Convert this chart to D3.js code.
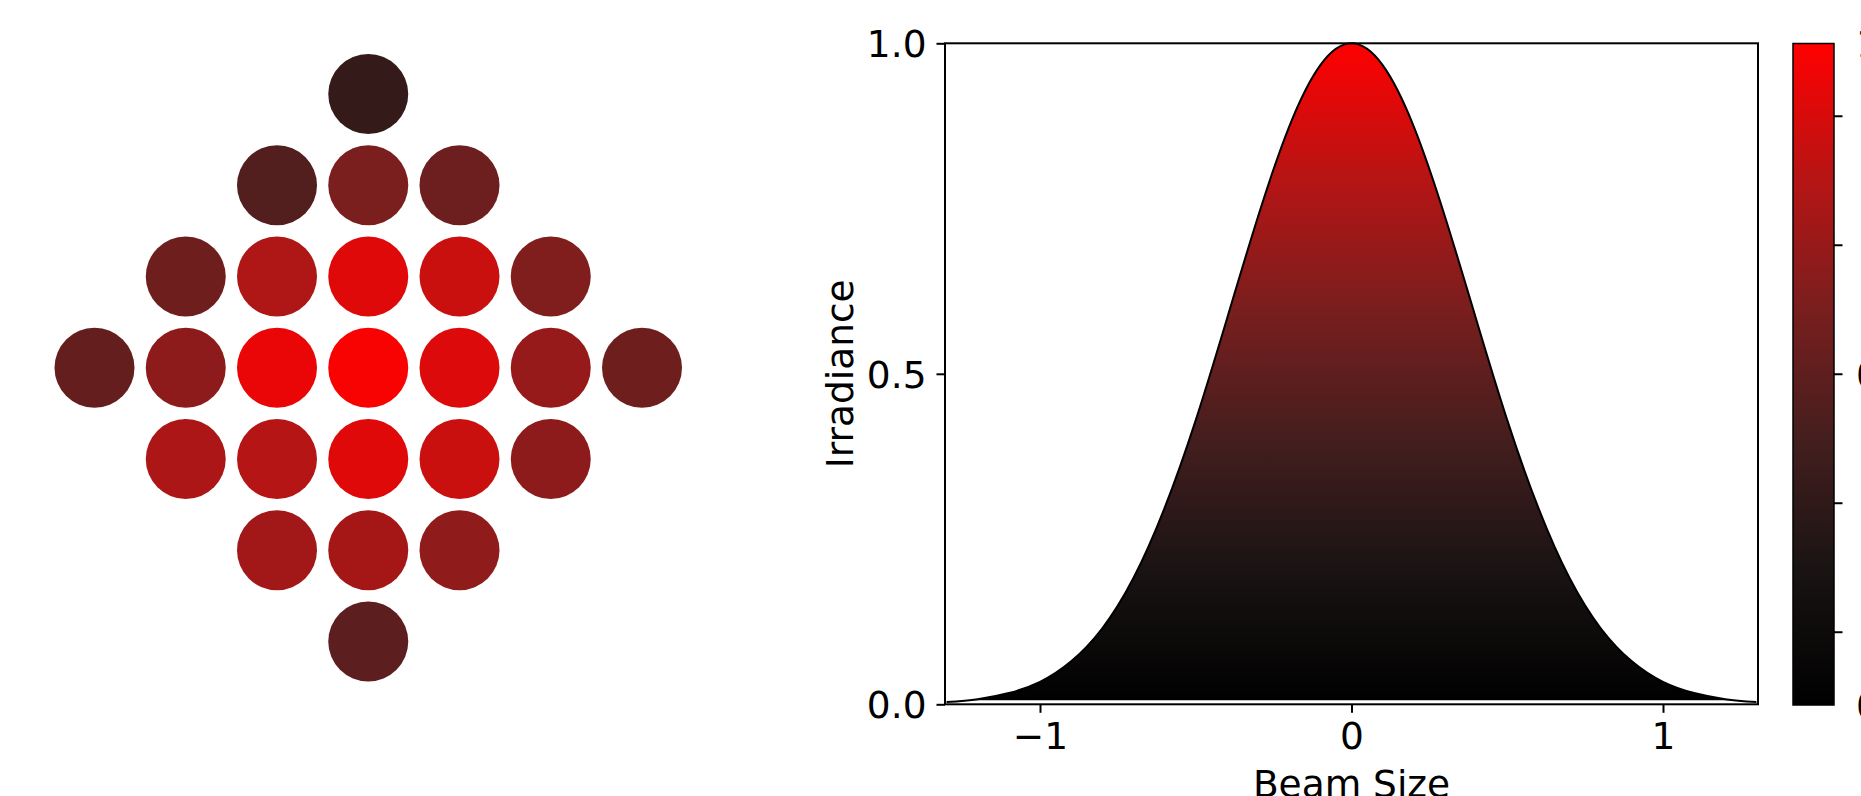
<!DOCTYPE html>
<html>
<head>
<meta charset="utf-8">
<script src="https://cdn.jsdelivr.net/npm/d3@7"></script>
<style>
  html, body { margin: 0; padding: 0; background: #ffffff; }
  svg { display: block; font-family: "DejaVu Sans", sans-serif; }
</style>
</head>
<body>
<svg id="chart" width="1861" height="796"></svg>
<script>
// ---------------- data ----------------
// beam array: grid column, grid row, relative irradiance of each spot
const spotCols = [0, -1, 0, 1, -2, -1, 0, 1, 2, -3, -2, -1, 0, 1, 2, 3, -2, -1, 0, 1, 2, -1, 0, 1, 0];
const spotRows = [-3, -2, -2, -2, -1, -1, -1, -1, -1, 0, 0, 0, 0, 0, 0, 0, 1, 1, 1, 1, 1, 2, 2, 2, 3];
const spotValues = [0.33, 0.45, 0.60, 0.55, 0.56, 0.77, 0.91, 0.85, 0.62, 0.52, 0.66, 0.94, 0.98, 0.90, 0.69, 0.56,
                    0.76, 0.79, 0.91, 0.85, 0.66, 0.73, 0.74, 0.67, 0.49];

// beam profile
const profileX = [-1.3, -1.2, -1.1, -1.0, -0.9, -0.8, -0.7, -0.6, -0.5, -0.4, -0.3, -0.2, -0.1, 0.0,
                  0.1, 0.2, 0.3, 0.4, 0.5, 0.6, 0.7, 0.8, 0.9, 1.0, 1.1, 1.2, 1.3];
const profileY = [0.0033, 0.0078, 0.017, 0.034, 0.065, 0.115, 0.191, 0.297, 0.430, 0.583, 0.738, 0.874, 0.967, 1.0,
                  0.967, 0.874, 0.738, 0.583, 0.430, 0.297, 0.191, 0.115, 0.065, 0.034, 0.017, 0.0078, 0.0033];
const fillBase = 0.006;

// axes
const xDomain = [-1.305, 1.305];
const yDomain = [0, 1];
const xTicks = [-1, 0, 1];
const xTickLabels = ["\u22121", "0", "1"];
const yTicks = [0, 0.5, 1];
const yTickLabels = ["0.0", "0.5", "1.0"];
const xLabel = "Beam Size";
const yLabel = "Irradiance";

// colormap (black -> red)
const cmapStops = [0, 0.2, 0.4, 0.6, 0.8, 1];
const cmapColors = ["#000000", "#191313", "#441e1e", "#7a1e1e", "#b81414", "#ff0000"];

// colorbar
const cbTickValues = [0.11, 0.305, 0.5, 0.695, 0.89];
const cbLabelValues = [0, 0.5, 1];
const cbLabels = ["0.0", "0.5", "1.0"];

// ---------------- drawing ----------------
const svg = d3.select("#chart");
const FS = 37.5;
const color = d3.scaleLinear().domain(cmapStops).range(cmapColors).interpolate(d3.interpolateRgb).clamp(true);

// --- left panel: spot diagram
const gx = d3.scaleLinear().domain([-3, 3]).range([94.5, 642]);
const gy = d3.scaleLinear().domain([-3, 3]).range([94, 641.5]);
const spots = spotValues.map((v, i) => ({ c: spotCols[i], r: spotRows[i], v }));
svg.append("g").selectAll("circle").data(spots).join("circle")
  .attr("cx", d => gx(d.c))
  .attr("cy", d => gy(d.r))
  .attr("r", 40)
  .attr("fill", d => color(d.v));

// --- right panel: beam profile
const L = 945, R = 1758, T = 43.3, B = 704.3;
const x = d3.scaleLinear().domain(xDomain).range([L, R]);
const y = d3.scaleLinear().domain(yDomain).range([B, T]);

const defs = svg.append("defs");
const grad = defs.append("linearGradient")
  .attr("id", "cmapGrad")
  .attr("gradientUnits", "userSpaceOnUse")
  .attr("x1", 0).attr("x2", 0)
  .attr("y1", y(0)).attr("y2", y(1));
grad.selectAll("stop").data(cmapStops).join("stop")
  .attr("offset", d => d)
  .attr("stop-color", (d, i) => cmapColors[i]);

const pts = profileX.map((px, i) => ({ x: px, y: profileY[i] }));
const area = d3.area()
  .x(d => x(d.x))
  .y0(y(fillBase))
  .y1(d => y(Math.max(d.y, fillBase)))
  .curve(d3.curveNatural);
const line = d3.line()
  .x(d => x(d.x))
  .y(d => y(d.y))
  .curve(d3.curveNatural);

svg.append("path").datum(pts).attr("d", area).attr("fill", "url(#cmapGrad)");
svg.append("path").datum(pts).attr("d", line)
  .attr("fill", "none").attr("stroke", "#000").attr("stroke-width", 2);

// spines
svg.append("rect").attr("x", L).attr("y", T).attr("width", R - L).attr("height", B - T)
  .attr("fill", "none").attr("stroke", "#000").attr("stroke-width", 2);

// x axis
const xAxis = svg.append("g").attr("transform", `translate(0,${B})`)
  .call(d3.axisBottom(x).tickValues(xTicks).tickSize(8.5).tickPadding(8.5)
        .tickFormat((d, i) => xTickLabels[i]));
xAxis.select(".domain").remove();
xAxis.selectAll(".tick line").attr("stroke", "#000").attr("stroke-width", 2);
xAxis.selectAll(".tick text").attr("font-size", FS).attr("font-family", "DejaVu Sans").attr("fill", "#000")
  .attr("dy", "0.74em");

// y axis
const yAxis = svg.append("g").attr("transform", `translate(${L},0)`)
  .call(d3.axisLeft(y).tickValues(yTicks).tickSize(8.5).tickPadding(10)
        .tickFormat((d, i) => yTickLabels[i]));
yAxis.select(".domain").remove();
yAxis.selectAll(".tick line").attr("stroke", "#000").attr("stroke-width", 2);
yAxis.selectAll(".tick text").attr("font-size", FS).attr("font-family", "DejaVu Sans").attr("fill", "#000")
  .attr("dy", "0.36em");

// axis labels
svg.append("text").attr("x", (L + R) / 2).attr("y", 797)
  .attr("text-anchor", "middle").attr("font-size", FS).attr("fill", "#000").text(xLabel);
svg.append("text").attr("transform", `translate(853,${(T + B) / 2}) rotate(-90)`)
  .attr("text-anchor", "middle").attr("font-size", FS).attr("fill", "#000").text(yLabel);

// --- colorbar
const CL = 1793, CR = 1834;
const cb = d3.scaleLinear().domain([0, 1]).range([705, 43.5]);
const cbGrad = defs.append("linearGradient")
  .attr("id", "cbGrad")
  .attr("gradientUnits", "userSpaceOnUse")
  .attr("x1", 0).attr("x2", 0)
  .attr("y1", cb(0)).attr("y2", cb(1));
cbGrad.selectAll("stop").data(cmapStops).join("stop")
  .attr("offset", d => d)
  .attr("stop-color", (d, i) => cmapColors[i]);
svg.append("rect").attr("x", CL).attr("y", cb(1)).attr("width", CR - CL).attr("height", cb(0) - cb(1))
  .attr("fill", "url(#cbGrad)");
svg.append("rect").attr("x", CL).attr("y", cb(1)).attr("width", CR - CL).attr("height", cb(0) - cb(1))
  .attr("fill", "none").attr("stroke", "#000").attr("stroke-width", 1.5);
svg.append("g").selectAll("line").data(cbTickValues).join("line")
  .attr("x1", CR).attr("x2", CR + 8.5)
  .attr("y1", d => cb(d)).attr("y2", d => cb(d))
  .attr("stroke", "#000").attr("stroke-width", 2);
svg.append("g").selectAll("text").data(cbLabelValues).join("text")
  .attr("x", CR + 22)
  .attr("y", d => cb(d))
  .attr("dy", "0.36em")
  .attr("font-size", FS).attr("fill", "#000")
  .text((d, i) => cbLabels[i]);
</script>
</body>
</html>
